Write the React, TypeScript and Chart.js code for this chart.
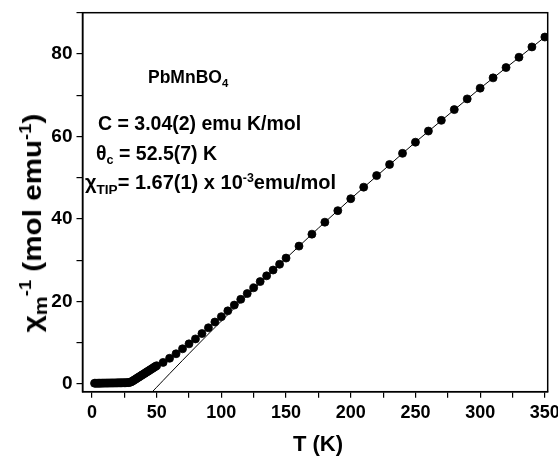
import React, { useEffect, useRef } from "react";
import { Chart, registerables } from "chart.js";

Chart.register(...registerables);

// Measured data: temperature (K) and inverse molar susceptibility (mol emu^-1)
const tempK = [
  2, 3, 4, 5, 6, 7, 8, 9, 10, 11, 12, 13, 14, 15, 16, 17, 18, 19, 20, 21, 22, 23, 24, 25, 26, 27, 28, 29,
  30, 31, 32, 33, 34, 35, 36, 37, 38, 39, 40, 41, 42, 43, 44, 45, 46, 47, 48, 49,
  50, 55, 60, 65, 70, 75, 80, 85, 90, 95, 100, 105, 110, 115, 120, 125, 130, 135, 140, 145, 150,
  160, 170, 180, 190, 200, 210, 220, 230, 240, 250, 260, 270, 280, 290, 300, 310, 320, 330, 340, 350,
];
const invChi = [
  0.15, 0.15, 0.16, 0.16, 0.17, 0.17, 0.18, 0.18, 0.19, 0.19, 0.2, 0.2, 0.21, 0.21, 0.22, 0.22, 0.23, 0.23,
  0.24, 0.24, 0.25, 0.25, 0.26, 0.27, 0.28, 0.29, 0.31, 0.35,
  0.45, 0.6, 0.8, 1.0, 1.2, 1.4, 1.6, 1.8, 2.0, 2.2, 2.4, 2.6, 2.8, 3.0, 3.2, 3.4, 3.6, 3.8, 4.0, 4.2,
  4.4, 5.2, 6.2, 7.3, 8.5, 9.7, 10.9, 12.2, 13.6, 15.0, 16.3, 17.7, 19.1, 20.5, 21.9, 23.3, 24.8, 26.2,
  27.6, 29.0, 30.5,
  33.4, 36.3, 39.2, 42.0, 44.9, 47.7, 50.5, 53.2, 55.9, 58.6, 61.3, 63.9, 66.5, 69.1, 71.7, 74.2, 76.7,
  79.2, 81.7, 84.1,
];

// Fit curve (Curie-Weiss + TIP)
const fitT = [46.5, 48, 50, 52.5, 55, 60, 65, 70, 75, 80, 90, 100, 110, 125, 150, 175, 200, 250, 300, 350];
const fitV = [-1.98, -1.48, -0.82, 0, 0.82, 2.46, 4.08, 5.7, 7.31, 8.91, 12.09, 15.23, 18.34, 22.94, 30.44, 37.76, 44.88, 58.61, 71.67, 84.1];

const xMajorTicks = [0, 50, 100, 150, 200, 250, 300, 350];
const yMajorTicks = [0, 20, 40, 60, 80];

const FONT = "'Liberation Sans', Arial, Helvetica, sans-serif";

const framePlugin = {
  id: "frame",
  afterDraw(chart: any) {
    const { ctx, chartArea } = chart;
    ctx.save();
    ctx.strokeStyle = "#000";
    ctx.lineWidth = 1.5;
    ctx.strokeRect(chartArea.left, chartArea.top, chartArea.right - chartArea.left, chartArea.bottom - chartArea.top);
    ctx.restore();
  },
};

export default function App() {
  const ref = useRef<HTMLCanvasElement>(null);

  useEffect(() => {
    if (!ref.current) return;
    const chart = new Chart(ref.current, {
      type: "scatter",
      data: {
        datasets: [
          {
            label: "data",
            data: tempK.map((t, i) => ({ x: t, y: invChi[i] })),
            showLine: false,
            pointRadius: 4,
            pointBorderWidth: 0.8,
            pointBackgroundColor: "#000",
            pointBorderColor: "#000",
            order: 2,
          },
          {
            label: "fit",
            data: fitT.map((t, i) => ({ x: t, y: fitV[i] })),
            showLine: true,
            pointRadius: 0,
            borderWidth: 1,
            borderColor: "#000",
            backgroundColor: "#000",
            tension: 0,
            order: 1,
          },
        ],
      },
      options: {
        animation: false,
        responsive: false,
        maintainAspectRatio: false,
        layout: { padding: { left: 0, top: 12.7, right: 10.3, bottom: 0 } },
        plugins: { legend: { display: false }, tooltip: { enabled: false } },
        scales: {
          x: {
            type: "linear",
            min: -7.3,
            max: 352.2,
            afterFit: (s: any) => {
              s.height = 64.3;
              s.paddingLeft = 0;
              s.paddingRight = 0;
            },
            ticks: {
              stepSize: 25,
              includeBounds: false,
              autoSkip: false,
              maxRotation: 0,
              color: "#000",
              padding: 5,
              font: { family: FONT, size: 18, weight: "bold" },
              callback: (v: any) => (xMajorTicks.includes(Number(v)) ? String(v) : ""),
            },
            grid: { drawOnChartArea: false, tickLength: 6, color: "#000", lineWidth: 1.2 },
            border: { display: true, color: "#000", width: 1.5 },
          },
          y: {
            type: "linear",
            min: -1.9,
            max: 90,
            afterFit: (s: any) => {
              s.width = 82.5;
              s.paddingTop = 0;
              s.paddingBottom = 0;
            },
            ticks: {
              stepSize: 10,
              includeBounds: false,
              autoSkip: false,
              color: "#000",
              padding: 4,
              font: { family: FONT, size: 19, weight: "bold" },
              callback: (v: any) => (yMajorTicks.includes(Number(v)) ? String(v) : ""),
            },
            grid: { drawOnChartArea: false, tickLength: 6, color: "#000", lineWidth: 1.2 },
            border: { display: true, color: "#000", width: 1.5 },
          },
        },
      },
      plugins: [framePlugin],
    });
    return () => chart.destroy();
  }, []);

  const txt: React.CSSProperties = {
    position: "absolute",
    fontFamily: FONT,
    fontWeight: "bold",
    whiteSpace: "nowrap",
    lineHeight: 1,
    color: "#000",
  };
  const sub: React.CSSProperties = { fontSize: "0.65em", verticalAlign: "-0.35em" };
  const sup: React.CSSProperties = { fontSize: "0.62em", verticalAlign: "0.6em" };

  return (
    <div style={{ position: "relative", width: 558, height: 456, background: "#fff" }}>
      <style>{"body{margin:0}"}</style>
      <canvas ref={ref} width={558} height={456} style={{ position: "absolute", left: 0, top: 0 }} />
      <div style={{ ...txt, fontSize: 17.5, left: 148, top: 78 - 0.49 * 17.5 }}>
        PbMnBO<span style={sub}>4</span>
      </div>
      <div style={{ ...txt, fontSize: 19.5, left: 98, top: 123.7 - 0.49 * 19.5 }}>C = 3.04(2) emu K/mol</div>
      <div style={{ ...txt, fontSize: 19.5, left: 96, top: 153.7 - 0.49 * 19.5 }}>
        θ<span style={sub}>c</span> = 52.5(7) K
      </div>
      <div style={{ ...txt, fontSize: 20, left: 85, top: 182 - 0.49 * 20 }}>
        χ<span style={{ ...sub, fontSize: "0.68em" }}>TIP</span>= 1.67(1) x 10<span style={sup}>-3</span>emu/mol
      </div>
      <div
        style={{
          ...txt,
          fontSize: 26,
          left: 34,
          top: 223,
          transform: "translate(-50%, -50%) rotate(-90deg) scaleX(1.14)",
        }}
      >
        χ<span style={{ ...sub, fontSize: "0.72em" }}>m</span>
        <span style={sup}>-1</span> (mol emu<span style={sup}>-1</span>)
      </div>
      <div style={{ ...txt, fontSize: 22, left: 318, top: 444 - 0.49 * 22, transform: "translateX(-50%)" }}>T (K)</div>
    </div>
  );
}
